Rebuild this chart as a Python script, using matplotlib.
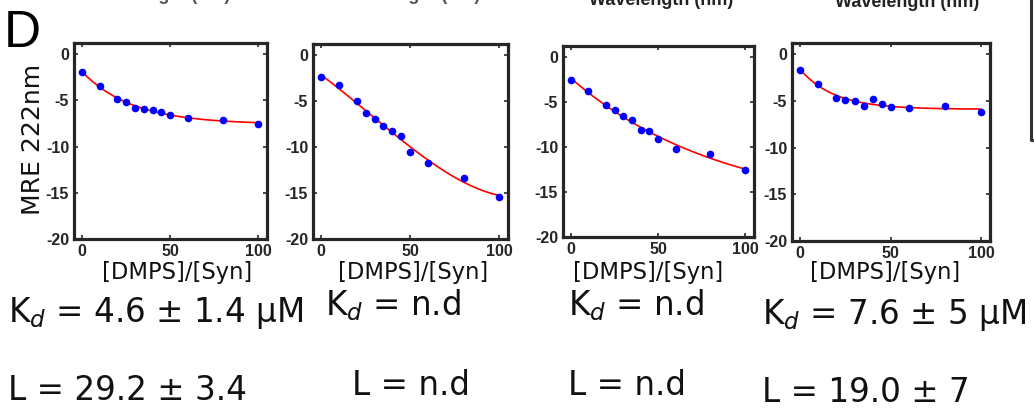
import numpy as np
import matplotlib
matplotlib.use("Agg")
import matplotlib.pyplot as plt
from matplotlib.lines import Line2D

# ---------------- data ----------------
ratio = [0, 10, 20, 25, 30, 35, 40, 45, 50, 60, 80, 100]
mre_p1 = [-1.9, -3.5, -4.85, -5.2, -5.8, -5.9, -6.1, -6.25, -6.55, -6.9, -7.15, -7.55]
mre_p2 = [-2.4, -3.3, -5.0, -6.3, -7.0, -7.7, -8.25, -8.75, -10.5, -11.7, -13.4, -15.4]
mre_p3 = [-2.6, -3.8, -5.4, -5.9, -6.6, -7.05, -8.1, -8.2, -9.1, -10.2, -10.8, -12.55]
mre_p4 = [-1.7, -3.15, -4.65, -4.9, -5.0, -5.55, -4.8, -5.35, -5.7, -5.75, -5.55, -6.2]
series = [mre_p1, mre_p2, mre_p3, mre_p4]
fit_models = ["exp", "cubic", "exp", "exp"]

yticks = [0, -5, -10, -15, -20]
xticks = [0, 50, 100]
xlabel = "[DMPS]/[Syn]"
ylabel = "MRE 222nm"
kd_texts = ["K$_d$ = 4.6 ± 1.4 μM", "K$_d$ = n.d", "K$_d$ = n.d", "K$_d$ = 7.6 ± 5 μM"]
l_texts = ["L = 29.2 ± 3.4", "L = n.d", "L = n.d", "L = 19.0 ± 7"]
top_label = "Wavelength (nm)"

W, H = 1034, 419
# axes boxes in pixels: left, right, top, bottom
boxes = [(74, 267, 43, 239), (313, 508, 44, 239), (563, 754, 46, 237), (792, 990, 43, 241)]
xlab_pos = [(177, 273), (413, 273), (648, 273), (885, 273)]
kd_pos = [(8, 313), (325, 305), (568, 305), (762, 315)]
l_pos = [(8, 390), (352, 385), (568, 385), (762, 392)]
top_pos = [(158, 0, "#555555"), (408, 0, "#555555"), (661, 5, "#222222"), (907, 7, "#222222")]


def fit_curve(x, y, model, xs):
    x = np.asarray(x, float)
    y = np.asarray(y, float)
    if model == "cubic":
        p = np.polyfit(x, y, 3)
        return np.polyval(p, xs)
    best = None
    for c in np.linspace(3, 400, 2000):
        A = np.column_stack([np.ones_like(x), np.exp(-x / c)])
        coef, *_ = np.linalg.lstsq(A, y, rcond=None)
        r = np.sum((A @ coef - y) ** 2)
        if best is None or r < best[0]:
            best = (r, c, coef)
    _, c, coef = best
    return coef[0] + coef[1] * np.exp(-xs / c)


fig = plt.figure(figsize=(W / 100, H / 100), dpi=100)
fig.patch.set_facecolor("white")

dark = "#262626"
for i, (l, r, t, b) in enumerate(boxes):
    ax = fig.add_axes([l / W, 1 - b / H, (r - l) / W, (b - t) / H])
    y = series[i]
    xs = np.linspace(0, 100, 300)
    ax.plot(xs, fit_curve(ratio, y, fit_models[i], xs), color="#ff0000", lw=1.2, zorder=2)
    ax.plot(ratio, y, "o", color="#0000ff", ms=5.5, mec="none", zorder=3)
    ax.set_xlim(-4.6, 105)
    ax.set_ylim(-20, 1.2)
    ax.set_xticks(xticks)
    ax.set_yticks(yticks)
    ax.set_yticklabels([str(v) for v in yticks])
    ax.tick_params(direction="in", length=3, width=1.2, top=True, right=True,
                   labelsize=11.5, colors=dark, pad=3.5)
    for lab in ax.get_xticklabels() + ax.get_yticklabels():
        lab.set_fontweight("bold")
        lab.set_fontfamily("Liberation Sans")
        lab.set_color(dark)
    for s in ax.spines.values():
        s.set_linewidth(2.3)
        s.set_color(dark)

    fig.text(xlab_pos[i][0] / W, 1 - xlab_pos[i][1] / H, xlabel, fontsize=16.3,
             family="DejaVu Sans", ha="center", va="center", color="#111111")
    fig.text(kd_pos[i][0] / W, 1 - kd_pos[i][1] / H, kd_texts[i], fontsize=23.5,
             family="DejaVu Sans", ha="left", va="center", color="#111111")
    fig.text(l_pos[i][0] / W, 1 - l_pos[i][1] / H, l_texts[i], fontsize=23.5,
             family="DejaVu Sans", ha="left", va="center", color="#111111")

fig.text(33 / W, 1 - 139 / H, ylabel, rotation=90, fontsize=18, family="DejaVu Sans",
         ha="center", va="center", color="#111111")
fig.text(4 / W, 1 - 47 / H, "D", fontsize=37, family="Liberation Sans",
         ha="left", va="baseline", color="black")

# cropped remnants of the panels above, at the top edge
for cx, cy, col in top_pos:
    fig.text(cx / W, 1 - cy / H, top_label, fontsize=13, fontweight="bold",
             family="Liberation Sans", ha="center", va="baseline", color=col)

# partial neighbouring frame at right edge
fig.add_artist(Line2D([1031 / W, 1031 / W, 1.0], [1.0, 1 - 140 / H, 1 - 140 / H],
                      transform=fig.transFigure, color="#333333", lw=2.2))

fig.savefig("out.png", dpi=100, facecolor="white")
